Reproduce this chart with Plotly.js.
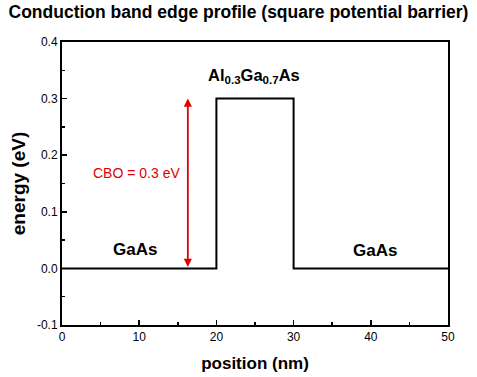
<!DOCTYPE html>
<html>
<head>
<meta charset="utf-8">
<script src="https://cdn.plot.ly/plotly-3.0.1.min.js"></script>
<style>html,body{margin:0;padding:0;background:#fff;}#chart{width:477px;height:377px;}</style>
</head>
<body>
<div id="chart"></div>
<script>
// Conduction band edge profile data
const positionNm = [0, 20, 20, 30, 30, 50];
const energyEv   = [0, 0, 0.3, 0.3, 0, 0];

// Label texts and anchor values
const labelTexts = ['GaAs', 'Al<sub>0.3</sub>Ga<sub>0.7</sub>As', 'GaAs'];
const labelX = [9.4, 24.9, 40.5];
const labelY = [0.034, 0.318, 0.032];
const labelAnchor = ['middle', 'bottom', 'middle'];
const labelSize = [17, 16.5, 17];

const cboText = 'CBO = 0.3 eV';
const cboX = 16.3;
const cboRange = [0, 0.3];
const cboTextPos = [9.65, 0.168];

const xTicks = [0, 10, 20, 30, 40, 50];
const yTicks = [-0.1, 0.0, 0.1, 0.2, 0.3, 0.4];
const yTickText = ['-0.1', '0.0', '0.1', '0.2', '0.3', '0.4'];

const FONT = 'Arial, "Liberation Sans", sans-serif';

const trace = {
  x: positionNm, y: energyEv, type: 'scatter', mode: 'lines',
  line: {color: '#000', width: 2}, hoverinfo: 'none', showlegend: false
};

const annotations = labelTexts.map((t, i) => ({
  x: labelX[i], y: labelY[i], xref: 'x', yref: 'y', text: '<b>' + t + '</b>',
  showarrow: false, font: {family: FONT, size: labelSize[i], color: '#000'}, xanchor: 'center', yanchor: labelAnchor[i]
}));

annotations.push({
  x: cboX, y: cboRange[1], ax: cboX, ay: cboRange[0], xref: 'x', yref: 'y', axref: 'x', ayref: 'y',
  text: '', showarrow: true, arrowhead: 2, startarrowhead: 2, arrowside: 'end+start',
  arrowcolor: '#e00000', arrowwidth: 1.8, arrowsize: 0.9, startarrowsize: 0.9, standoff: 0, startstandoff: 0
});
annotations.push({
  x: cboTextPos[0], y: cboTextPos[1], xref: 'x', yref: 'y', text: cboText, showarrow: false,
  font: {family: FONT, size: 14, color: '#e00000'}, xanchor: 'center', yanchor: 'middle'
});

const layout = {
  width: 477, height: 377,
  margin: {l: 62, r: 29, t: 42, b: 52},
  paper_bgcolor: '#fff', plot_bgcolor: '#fff',
  title: {text: '<b>Conduction band edge profile (square potential barrier)</b>',
    font: {family: FONT, size: 17.5, color: '#000'}, x: 0.5, xanchor: 'center', y: 0.968, yanchor: 'middle'},
  xaxis: {
    range: [0, 50], tickvals: xTicks, ticktext: xTicks.map(String),
    ticks: 'inside', ticklen: 5, tickwidth: 1.5, tickcolor: '#000',
    minor: {ticks: 'inside', dtick: 5, ticklen: 3, tickwidth: 1.5, tickcolor: '#000', showgrid: false},
    showline: true, linecolor: '#000', linewidth: 2, mirror: true,
    showgrid: false, zeroline: false,
    tickfont: {family: FONT, size: 12, color: '#000'},
    title: {text: '<b>position (nm)</b>', font: {family: FONT, size: 17, color: '#000'}, standoff: 14}
  },
  yaxis: {
    range: [-0.1, 0.4], tickvals: yTicks, ticktext: yTickText,
    ticks: 'inside', ticklen: 5, tickwidth: 1.5, tickcolor: '#000',
    minor: {ticks: 'inside', dtick: 0.05, tick0: 0, ticklen: 3, tickwidth: 1.5, tickcolor: '#000', showgrid: false},
    showline: true, linecolor: '#000', linewidth: 2, mirror: true,
    showgrid: false, zeroline: false,
    tickfont: {family: FONT, size: 12, color: '#000'},
    title: {text: '<b>energy (eV)</b>', font: {family: FONT, size: 19, color: '#000'}, standoff: 6}
  },
  annotations: annotations
};

Plotly.newPlot('chart', [trace], layout, {displayModeBar: false, staticPlot: true});
</script>
</body>
</html>
